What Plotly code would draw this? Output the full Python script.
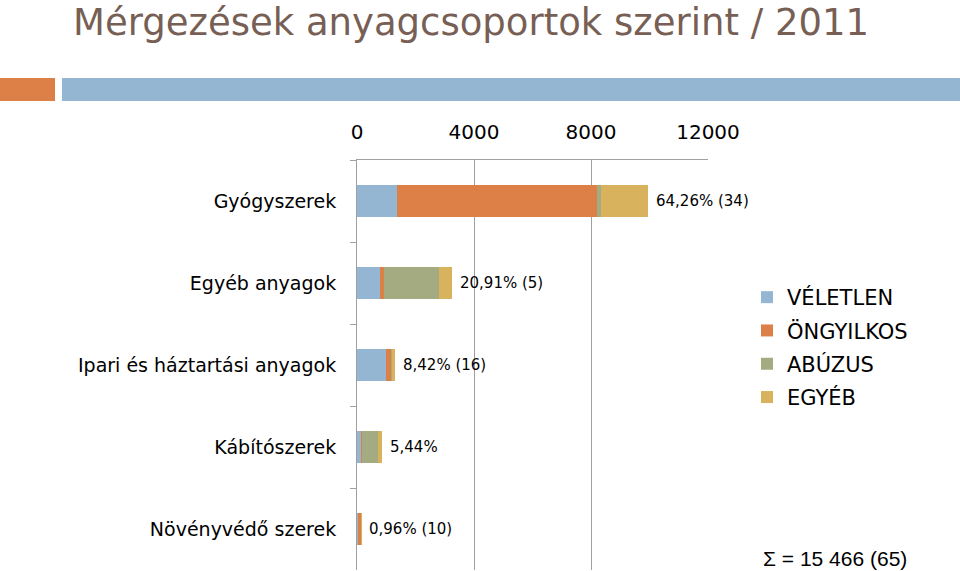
import plotly.graph_objects as go

categories = ["Gyógyszerek", "Egyéb anyagok", "Ipari és háztartási anyagok", "Kábítószerek", "Növényvédő szerek"]
series_names = ["VÉLETLEN", "ÖNGYILKOS", "ABÚZUS", "EGYÉB"]
veletlen = [1370, 800, 990, 150, 50]
ongyilkos = [6835, 120, 185, 10, 90]
abuzus = [150, 1900, 20, 560, 0]
egyeb = [1583, 414, 107, 121, 8]
bar_labels = ["64,26% (34)", "20,91% (5)", "8,42% (16)", "5,44%", "0,96% (10)"]
x_ticks = [0, 4000, 8000, 12000]
total_text = "Σ = 15 466 (65)"
title_text = "Mérgezések anyagcsoportok szerint / 2011"

colors = ["#94B6D2", "#DD8047", "#A5AB81", "#D8B25C"]
W, H = 960, 571
L, R, T, B = 357, 252, 160, 1
pw, ph = W - L - R, H - T - B

def px(xpix):
    return (xpix - L) / pw

def py(ypix):
    return 1 - (ypix - T) / ph

FONT = "DejaVu Sans"

fig = go.Figure()
for name, vals, col in zip(series_names, [veletlen, ongyilkos, abuzus, egyeb], colors):
    fig.add_trace(go.Bar(y=categories, x=vals, name=name, orientation="h",
                         marker=dict(color=col, line=dict(width=0)),
                         legendgroup=name, hoverinfo="x+name"))

totals = [a + b + c + d for a, b, c, d in zip(veletlen, ongyilkos, abuzus, egyeb)]
for cat, tot, lab in zip(categories, totals, bar_labels):
    fig.add_annotation(x=tot, y=cat, text=lab, showarrow=False, xanchor="left",
                       xshift=6, font=dict(family=FONT, size=15, color="#000000"))

fig.add_annotation(x=px(835), y=py(558), xref="paper", yref="paper", text=total_text,
                   xanchor="center", yanchor="middle",
                   showarrow=False, font=dict(family="Liberation Sans", size=21, color="#000000"))

# decorative header bars
fig.add_shape(type="rect", xref="paper", yref="paper", x0=px(0), x1=px(55), y0=py(101), y1=py(78),
              fillcolor="#DD8047", line=dict(width=0), layer="above")
fig.add_shape(type="rect", xref="paper", yref="paper", x0=px(62), x1=px(960), y0=py(101), y1=py(78),
              fillcolor="#94B6D2", line=dict(width=0), layer="above")

fig.update_layout(
    width=W, height=H,
    margin=dict(l=L, r=R, t=T, b=B, autoexpand=False),
    paper_bgcolor="white", plot_bgcolor="white",
    barmode="stack", bargap=0.61,
    title=dict(text=title_text, x=73 / W, xanchor="left", y=1 - 22 / H, yanchor="middle",
               xref="container", yref="container",
               font=dict(family=FONT, size=37, color="#775F55")),
    legend=dict(x=px(747), y=py(277), xanchor="left", yanchor="top", traceorder="grouped",
                font=dict(family=FONT, size=21, color="#000000"), tracegroupgap=3,
                bgcolor="rgba(0,0,0,0)"),
    showlegend=True,
)
fig.update_xaxes(range=[0, 12000], side="top", tickvals=x_ticks, ticktext=[str(v) for v in x_ticks],
                 showgrid=True, gridcolor="#A0A0A0", gridwidth=1, showline=True, linecolor="#A0A0A0",
                 linewidth=1, zeroline=False, ticks="", ticklabelstandoff=12,
                 tickfont=dict(family=FONT, size=20, color="#000000"))
fig.update_yaxes(categoryorder="array", categoryarray=categories, autorange="reversed",
                 showline=True, linecolor="#A0A0A0", linewidth=1, ticks="outside", tickson="boundaries",
                 ticklen=6, tickcolor="#A0A0A0", showgrid=False, ticklabelstandoff=16,
                 tickfont=dict(family=FONT, size=19, color="#000000"))

fig.write_html("out.html")
